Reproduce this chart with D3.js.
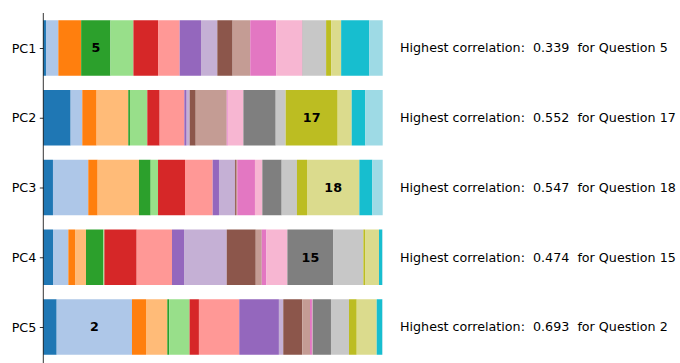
<!DOCTYPE html>
<html><head><meta charset="utf-8">
<script src="https://cdn.jsdelivr.net/npm/d3@7"></script>
<style>body{margin:0;background:#fff}svg{display:block}text{font-family:"DejaVu Sans",sans-serif}</style>
</head><body>
<svg id="c" width="680" height="363"></svg>
<script>
const components = ["PC1","PC2","PC3","PC4","PC5"];
const questions = d3.range(1,21);
const pc1 = [0.031,0.143,0.262,0.002,0.339,0.266,0.285,0.250,0.247,0.189,0.177,0.204,0.300,0.304,0.004,0.270,0.058,0.116,0.327,0.154];
const pc2 = [0.290,0.124,0.152,0.336,0.018,0.184,0.131,0.262,0.025,0.032,0.064,0.329,0.011,0.166,0.343,0.106,0.552,0.149,0.145,0.184];
const pc3 = [0.101,0.369,0.098,0.432,0.122,0.077,0.282,0.289,0.066,0.167,0.010,0.014,0.185,0.077,0.202,0.160,0.105,0.547,0.136,0.108];
const pc4 = [0.100,0.158,0.069,0.113,0.179,0.010,0.333,0.364,0.124,0.440,0.299,0.062,0.048,0.216,0.474,0.309,0.017,0.144,0.031,0.007];
const pc5 = [0.123,0.693,0.129,0.196,0.018,0.187,0.086,0.371,0.365,0.040,0.175,0.071,0.018,0.006,0.169,0.166,0.071,0.184,0.049,0.006];
const loadings = [pc1,pc2,pc3,pc4,pc5];
const tab20 = ["#1f77b4","#aec7e8","#ff7f0e","#ffbb78","#2ca02c","#98df8a","#d62728","#ff9896","#9467bd","#c5b0d5","#8c564b","#c49c94","#e377c2","#f7b6d2","#7f7f7f","#c7c7c7","#bcbd22","#dbdb8d","#17becf","#9edae5"];

const svg = d3.select("#c");
const x0 = 43.3, x1 = 382.7;
const y = d3.scalePoint().domain(components).range([48, 327]);
const barH = 55.5;
const fs = 12.7;
const color = d3.scaleOrdinal().domain(questions).range(tab20);

components.forEach((pc, i) => {
  const vals = loadings[i];
  const total = d3.sum(vals);
  const x = d3.scaleLinear().domain([0, total]).range([x0, x1]);
  let cum = 0;
  const segs = vals.map((v, j) => { const s = {q: questions[j], v, start: cum}; cum += v; return s; });
  const g = svg.append("g");
  g.selectAll("rect").data(segs).join("rect")
    .attr("x", d => x(d.start))
    .attr("y", y(pc) - barH/2)
    .attr("width", d => x(d.start + d.v) - x(d.start))
    .attr("height", barH)
    .attr("fill", d => color(d.q));
  const best = segs.reduce((a, b) => b.v > a.v ? b : a);
  g.append("text")
    .attr("x", x(best.start + best.v/2))
    .attr("y", y(pc))
    .attr("dy", "0.35em")
    .attr("text-anchor", "middle")
    .attr("font-size", fs).attr("font-weight", "bold").attr("fill", "#000")
    .text(best.q);
  g.append("text")
    .attr("x", 400)
    .attr("y", y(pc))
    .attr("dy", "0.35em")
    .attr("font-size", fs).attr("fill", "#000")
    .attr("xml:space", "preserve")
    .style("white-space", "pre")
    .text(`Highest correlation:  ${best.v.toFixed(3)}  for Question ${best.q}`);
});

const axis = d3.axisLeft(y).tickSize(3.5).tickPadding(3.5);
const ag = svg.append("g").attr("transform", `translate(${x0},0)`).call(axis);
ag.select(".domain").remove();
ag.selectAll("text").attr("font-size", fs).attr("fill", "#000").style("font-family", "DejaVu Sans");
ag.selectAll("line").attr("stroke", "#000").attr("stroke-width", 0.8);
svg.append("line").attr("x1", x0).attr("x2", x0).attr("y1", 13).attr("y2", 363)
  .attr("stroke", "#000").attr("stroke-width", 0.8);
</script>
</body></html>
